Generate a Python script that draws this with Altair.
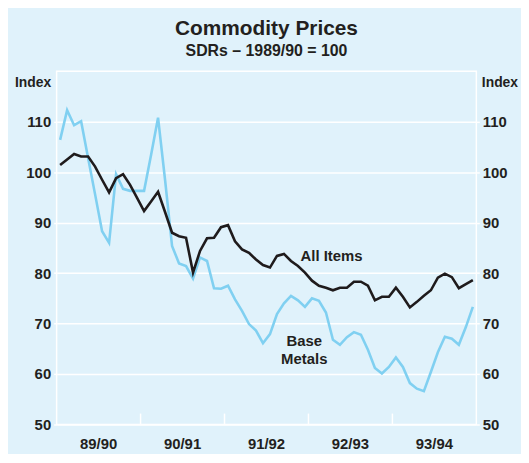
import altair as alt
import pandas as pd

# ---- data (monthly, July 1989 - June 1994) ----
all_items = [101.4, 102.5, 103.6, 103.1, 103.1, 101.1, 98.5, 96.0, 98.8, 99.6,
             97.5, 94.9, 92.3, 94.2, 96.1, 92.1, 88.0, 87.3, 87.0, 80.1,
             84.4, 86.9, 87.0, 89.1, 89.5, 86.3, 84.7, 84.0, 82.7, 81.6,
             81.1, 83.4, 83.8, 82.4, 81.4, 80.1, 78.5, 77.5, 77.1, 76.6,
             77.1, 77.1, 78.3, 78.3, 77.5, 74.6, 75.3, 75.3, 77.1, 75.3,
             73.2, 74.3, 75.5, 76.6, 79.1, 79.9, 79.2, 77.0, 77.8, 78.6]
base_metals = [106.4, 112.3, 109.3, 110.1, 102.8, 95.6, 88.3, 86.0, 99.6, 96.7,
               96.3, 96.3, 96.3, 103.4, 110.8, 98.5, 85.4, 81.9, 81.4, 78.9,
               83.1, 82.4, 77.0, 76.9, 77.5, 74.8, 72.5, 69.9, 68.6, 66.1,
               67.9, 71.9, 74.0, 75.5, 74.6, 73.3, 75.0, 74.5, 72.2, 66.8,
               65.8, 67.3, 68.3, 67.8, 64.8, 61.2, 60.1, 61.4, 63.3, 61.4,
               58.2, 57.1, 56.6, 60.4, 64.3, 67.4, 67.0, 65.8, 69.3, 73.3]
year_labels = ["89/90", "90/91", "91/92", "92/93", "93/94"]
year_mid = [6, 18, 30, 42, 54]
year_bounds = [12, 24, 36, 48]
y_ticks = [50, 60, 70, 80, 90, 100, 110]
note_labels = ["All Items", "Base", "Metals"]
note_x = [39.3, 35.4, 35.4]
note_y = [83.3, 66.6, 63.0]

months = [i + 0.5 for i in range(len(all_items))]
df_all = pd.DataFrame({"month": months, "value": all_items})
df_base = pd.DataFrame({"month": months, "value": base_metals})
df_bounds = pd.DataFrame({"month": year_bounds})
df_years = pd.DataFrame({"month": year_mid, "label": year_labels})
df_notes = pd.DataFrame({"label": note_labels, "month": note_x, "value": note_y})

FONT = "Liberation Sans"
TXT = "#231f20"
BG = "#e0f2fb"
BLACK = "#1f1b1c"
BLUE = "#80d0f1"
W, H = 423, 356

x_scale = alt.Scale(domain=[0, 60], nice=False, zero=False)
y_scale = alt.Scale(domain=[50, 120], nice=False, zero=False)

common_y = dict(values=y_ticks, domain=False, tickColor="white", tickSize=3,
                tickWidth=1.5, labelFont=FONT, labelFontSize=15,
                labelFontWeight="bold", labelColor=TXT, title="Index",
                titleAngle=0, titleFont=FONT, titleFontSize=14,
                titleFontWeight="bold", titleColor=TXT,
                titleBaseline="alphabetic", titleY=15.6, labelPadding=3)

left_axis = alt.Axis(orient="left", grid=True, gridColor="white", gridWidth=1.5,
                     titleAlign="right", titleX=-6, **common_y)
right_axis = alt.Axis(orient="right", grid=False, titleAlign="left", titleX=5,
                      **common_y)

X = alt.X("month:Q", scale=x_scale, axis=None)

base_layer = alt.Chart(df_base).mark_line(color=BLUE, strokeWidth=2.6).encode(
    x=X,
    y=alt.Y("value:Q", scale=y_scale, axis=left_axis),
)

all_layer = alt.Chart(df_all).mark_line(color=BLACK, strokeWidth=2.6).encode(
    x=X,
    y=alt.Y("value:Q", scale=y_scale, axis=None),
)

right_layer = alt.Chart(df_all).mark_line(opacity=0).encode(
    x=X,
    y=alt.Y("value:Q", scale=y_scale, axis=right_axis),
)

bounds_layer = alt.Chart(df_bounds).mark_rule(color="white", strokeWidth=1.5).encode(
    x=X,
    y=alt.value(H),
    y2=alt.value(H - 11),
)

years_layer = alt.Chart(df_years).mark_text(
    font=FONT, fontSize=15, fontWeight="bold", color=TXT, align="center",
    baseline="middle").encode(
    x=X,
    y=alt.value(H + 20),
    text="label:N",
)

notes_layer = alt.Chart(df_notes).mark_text(
    font=FONT, fontSize=15, fontWeight="bold", color=TXT, align="center",
    baseline="middle").encode(
    x=X,
    y=alt.Y("value:Q", scale=y_scale, axis=None),
    text="label:N",
)

chart = alt.layer(
    base_layer, all_layer, right_layer, bounds_layer, years_layer, notes_layer
).resolve_axis(y="independent").properties(
    width=W, height=H,
    title=alt.TitleParams(text="Commodity Prices", subtitle="SDRs – 1989/90 = 100",
                          font=FONT, fontSize=21, fontWeight="bold", color=TXT,
                          subtitleFont=FONT, subtitleFontSize=16,
                          subtitleFontWeight="bold", subtitleColor=TXT,
                          anchor="middle", offset=12, subtitlePadding=5),
    background=BG,
    padding={"left": 49, "top": 62, "right": 45, "bottom": 28},
    autosize=alt.AutoSizeParams(type="none"),
).configure_view(stroke="white", strokeWidth=1.5)

chart.save("out.html", embed_options={"renderer": "svg", "actions": False})
